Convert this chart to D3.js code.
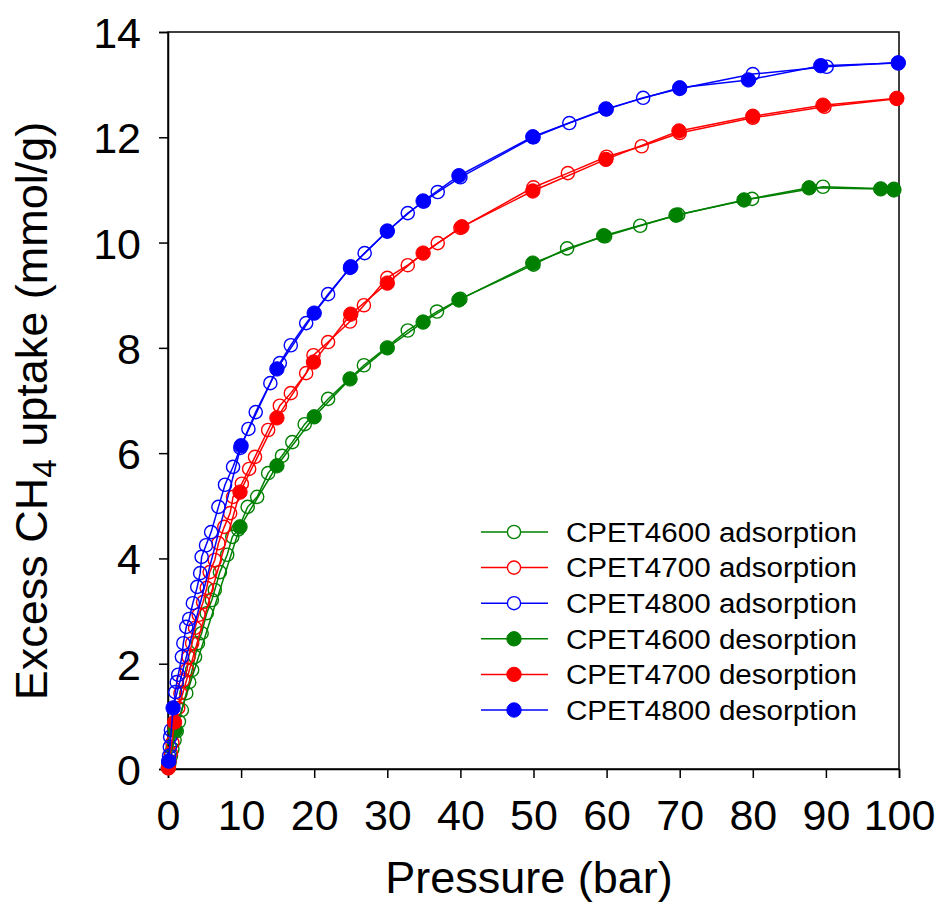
<!DOCTYPE html>
<html>
<head>
<meta charset="utf-8">
<script src="https://cdn.jsdelivr.net/npm/d3@7"></script>
<style>
  html, body { margin: 0; padding: 0; background: #fff; }
  svg text { font-family: "Liberation Sans", Arial, sans-serif; fill: #000; }
</style>
</head>
<body>
<svg id="chart" width="941" height="902"></svg>
<script>
// ---- data (pressure in bar, uptake in mmol/g) ----
const xTicks = [0, 10, 20, 30, 40, 50, 60, 70, 80, 90, 100];
const yTicks = [0, 2, 4, 6, 8, 10, 12, 14];

const ads4600P = [0.05,0.2,0.4,0.6,0.9,1.2,1.5,1.9,2.5,2.9,3.3,3.7,4.1,4.6,5.3,6.0,6.4,7.1,8.1,8.8,9.6,10.9,12.2,13.7,15.6,17.0,18.7,21.9,26.8,32.8,36.8,40.0,50.0,54.6,59.8,64.6,69.8,79.9,89.6,99.3];
const ads4600V = [0.02,0.12,0.25,0.38,0.55,0.72,0.90,1.12,1.44,1.65,1.88,2.13,2.39,2.58,2.96,3.21,3.40,3.74,4.07,4.41,4.55,4.98,5.17,5.62,5.95,6.21,6.55,7.03,7.67,8.33,8.69,8.93,9.58,9.89,10.12,10.32,10.53,10.83,11.06,11.02];

const ads4700P = [0.05,0.2,0.4,0.6,0.9,1.4,1.7,2.1,2.6,2.8,3.3,3.7,4.2,4.8,5.3,5.7,6.4,6.9,7.7,8.5,8.9,10.1,11.1,11.9,13.7,15.3,16.8,18.9,19.9,21.9,24.9,26.8,30.0,32.8,36.9,40.0,50.0,54.7,60.0,64.8,70.0,80.0,89.8,99.7];
const ads4700V = [0.03,0.15,0.30,0.50,0.75,1.16,1.44,1.69,1.88,2.13,2.39,2.68,2.93,3.17,3.44,3.74,3.97,4.29,4.60,4.86,5.17,5.42,5.70,5.93,6.44,6.90,7.14,7.52,7.86,8.11,8.50,8.81,9.33,9.57,9.99,10.28,11.05,11.32,11.63,11.83,12.08,12.37,12.58,12.73];

const ads4800P = [0.05,0.15,0.25,0.3,0.4,1.0,1.2,1.4,1.9,2.1,2.5,2.9,3.4,4.0,4.4,4.6,5.2,5.9,6.9,7.8,8.9,9.9,11.0,12.0,14.0,15.3,16.8,18.9,21.9,24.9,26.9,30.0,32.8,35.0,36.9,40.0,50.0,54.9,60.0,65.0,70.0,80.0,90.1,99.9];
const ads4800V = [0.10,0.25,0.42,0.61,0.74,1.46,1.65,1.79,2.13,2.39,2.70,2.85,3.15,3.46,3.72,4.03,4.25,4.50,4.98,5.40,5.74,6.10,6.46,6.78,7.33,7.71,8.05,8.47,9.02,9.52,9.80,10.21,10.56,10.78,10.96,11.24,12.00,12.27,12.53,12.75,12.92,13.20,13.34,13.42];

const des4600P = [99.3,97.5,87.7,78.8,69.5,59.6,49.9,39.8,34.9,30.0,24.9,20.0,14.9,9.85,1.0,0.05];
const des4600V = [11.00,11.02,11.04,10.81,10.52,10.13,9.61,8.91,8.49,8.00,7.41,6.69,5.76,4.60,0.74,0.03];

const des4700P = [99.7,89.6,80.0,69.9,59.9,49.9,40.2,34.9,30.0,25.0,19.9,14.9,9.85,0.9,0.05];
const des4700V = [12.74,12.61,12.40,12.12,11.58,10.98,10.30,9.80,9.23,8.64,7.73,6.67,5.26,0.89,0.02];

const des4800P = [99.9,89.3,79.4,70.0,59.9,49.9,39.8,34.9,30.0,25.0,20.0,14.9,10.0,0.7,0.1];
const des4800V = [13.41,13.36,13.09,12.94,12.54,12.01,11.27,10.79,10.22,9.54,8.66,7.60,6.14,1.16,0.15];

const seriesNames = ["CPET4600 adsorption","CPET4700 adsorption","CPET4800 adsorption",
                     "CPET4600 desorption","CPET4700 desorption","CPET4800 desorption"];
const seriesColors = ["#008000","#ff0000","#0000ff","#008000","#ff0000","#0000ff"];
const seriesFilled = [false,false,false,true,true,true];
const seriesP = [ads4600P, ads4700P, ads4800P, des4600P, des4700P, des4800P];
const seriesV = [ads4600V, ads4700V, ads4800V, des4600V, des4700V, des4800V];

// ---- layout ----
const svg = d3.select("#chart");
const L = 168, R = 899, T = 32, B = 769;
const x = d3.scaleLinear().domain([0, 100]).range([L, R]);
const y = d3.scaleLinear().domain([0, 14]).range([B, T]);

// frame
svg.append("rect").attr("x", L).attr("y", T).attr("width", R - L).attr("height", B - T)
  .attr("fill", "none").attr("stroke", "#000").attr("stroke-width", 1.5);

// axes
const xAxis = svg.append("g").attr("transform", `translate(0,${B})`)
  .call(d3.axisBottom(x).tickValues(xTicks).tickSize(9).tickPadding(30).tickFormat(d3.format("d")));
const yAxis = svg.append("g").attr("transform", `translate(${L},0)`)
  .call(d3.axisLeft(y).tickValues(yTicks).tickSize(9).tickPadding(18).tickFormat(d3.format("d")));
[xAxis, yAxis].forEach(g => {
  g.select(".domain").attr("stroke", "#000").attr("stroke-width", 1.5);
  g.selectAll(".tick line").attr("stroke", "#000").attr("stroke-width", 1.5);
  g.selectAll(".tick text").attr("font-size", 43).attr("font-family", '"Liberation Sans", Arial, sans-serif').attr("fill", "#000");
});
xAxis.selectAll(".tick text").attr("dy", "0.71em").attr("y", 30);
yAxis.selectAll(".tick text").attr("dy", "0.36em");

// axis titles
svg.append("text").attr("x", 529).attr("y", 893).attr("text-anchor", "middle")
  .attr("font-size", 45).text("Pressure (bar)");
const yt = svg.append("text").attr("transform", "translate(47,411) rotate(-90)")
  .attr("text-anchor", "middle").attr("font-size", 45);
yt.append("tspan").text("Excess CH");
yt.append("tspan").attr("font-size", 33).attr("dy", 9).text("4");
yt.append("tspan").attr("dy", -9).text(" uptake (mmol/g)");

// series
const line = d3.line().x(d => x(d[0])).y(d => y(d[1]));
const plot = svg.append("g");
seriesNames.forEach((name, i) => {
  const pts = d3.zip(seriesP[i], seriesV[i]);
  const g = plot.append("g");
  g.append("path").datum(pts).attr("d", line).attr("fill", "none")
    .attr("stroke", seriesColors[i]).attr("stroke-width", 1.5);
  g.selectAll("circle").data(pts).join("circle")
    .attr("cx", d => x(d[0])).attr("cy", d => y(d[1]))
    .attr("r", seriesFilled[i] ? 7.2 : 6.6)
    .attr("fill", seriesFilled[i] ? seriesColors[i] : "none")
    .attr("stroke", seriesColors[i]).attr("stroke-width", seriesFilled[i] ? 1 : 1.4);
});

// legend
const leg = svg.append("g");
const legY0 = 532, legDy = 35.6;
seriesNames.forEach((name, i) => {
  const yy = legY0 + i * legDy;
  leg.append("line").attr("x1", 481).attr("x2", 548).attr("y1", yy).attr("y2", yy)
    .attr("stroke", seriesColors[i]).attr("stroke-width", 1.5);
  leg.append("circle").attr("cx", 514).attr("cy", yy).attr("r", seriesFilled[i] ? 7.2 : 6.6)
    .attr("fill", seriesFilled[i] ? seriesColors[i] : "#fff")
    .attr("stroke", seriesColors[i]).attr("stroke-width", seriesFilled[i] ? 1 : 1.4);
  leg.append("text").attr("x", 566).attr("y", yy).attr("dy", "0.36em")
    .attr("font-size", 27).attr("textLength", 291).attr("lengthAdjust", "spacingAndGlyphs")
    .text(name);
});
</script>
</body>
</html>
